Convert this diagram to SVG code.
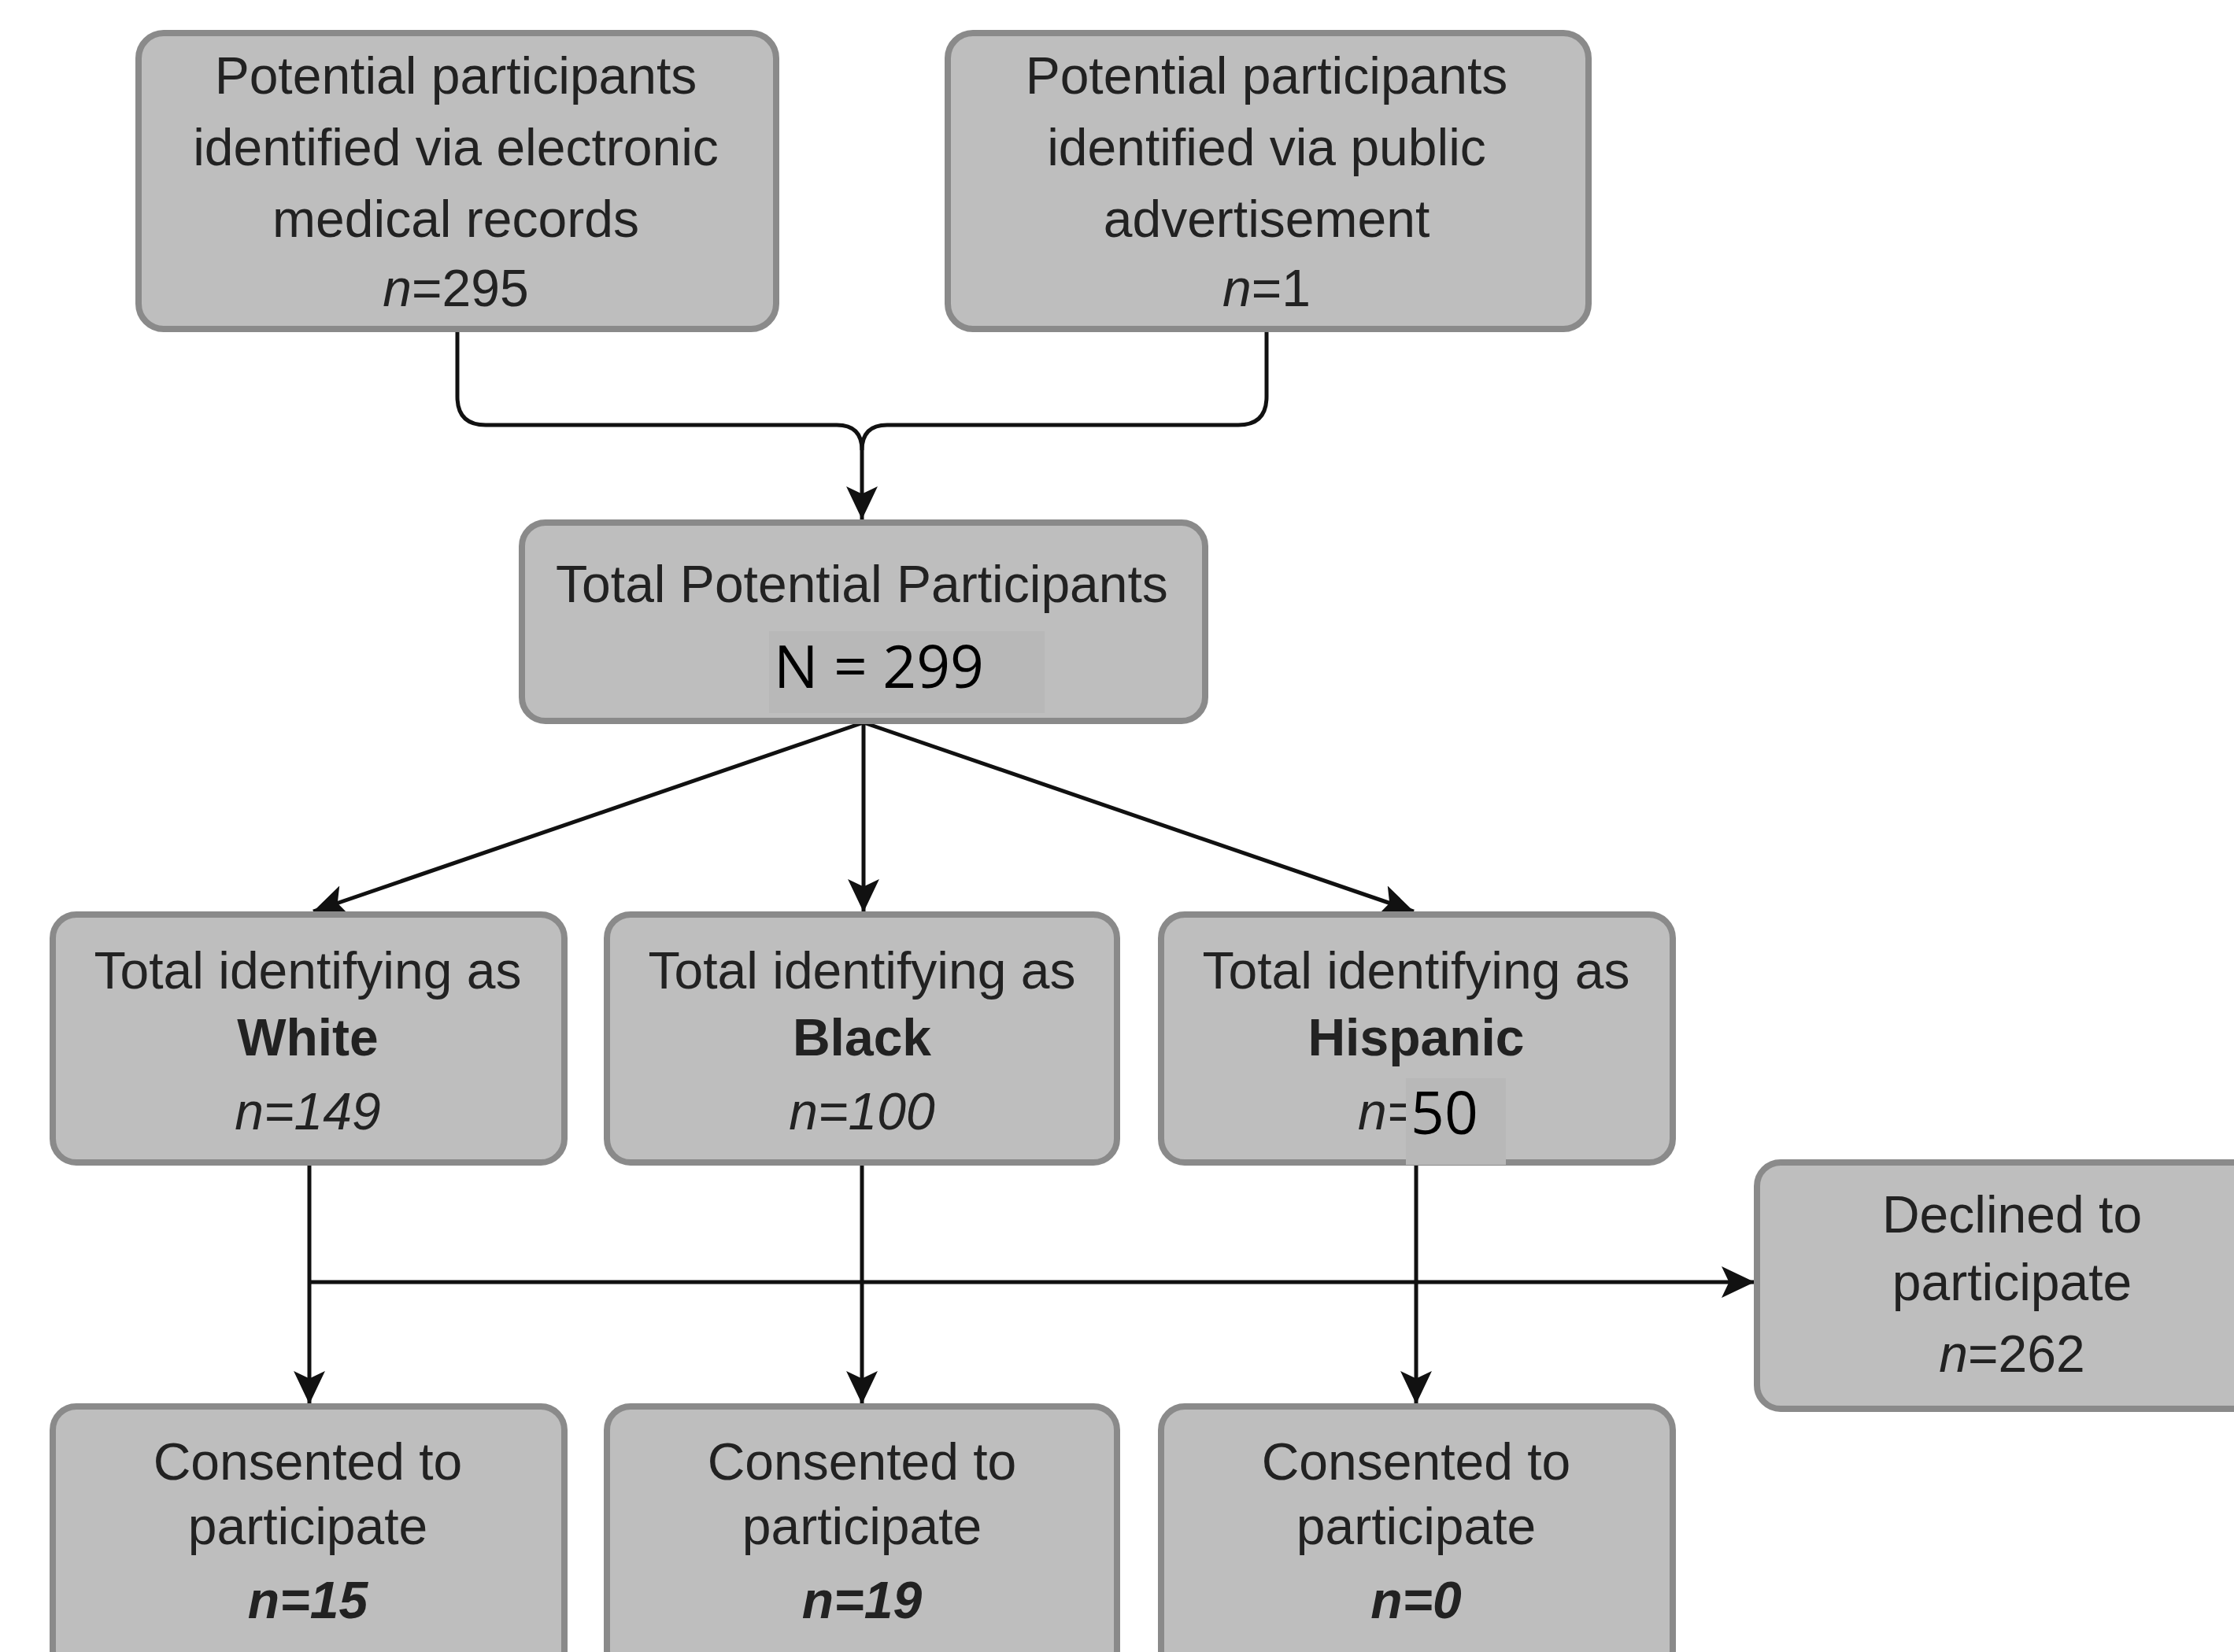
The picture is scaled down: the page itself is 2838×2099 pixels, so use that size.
<svg xmlns="http://www.w3.org/2000/svg" width="2838" height="2099" viewBox="0 0 2838 2099">
<style>
.box{fill:#bebebe;stroke:#8a8a8a;stroke-width:8}
.t{font-family:"Liberation Sans",Arial,sans-serif;font-size:66px;fill:#222;text-anchor:middle}
.i{font-style:italic}
.b{font-weight:bold}
.c{fill:none;stroke:#111;stroke-width:5}
.cal{font-family:"Open Sans","Noto Sans",sans-serif;font-size:75px;fill:#000}
.patch{fill:#b8b8b8}
</style>
<defs>
<marker id="arr" viewBox="0 0 40 40" refX="40" refY="20" markerWidth="42" markerHeight="42" orient="auto" markerUnits="userSpaceOnUse">
<path d="M0,1 L40,20 L0,39 L9,20 Z" fill="#111"/>
</marker>
</defs>
<rect width="2838" height="2099" fill="#fff"/>
<g id="connectors">
<path class="c" d="M581,420 V504 Q581,540 617,540 H1063 Q1095,540 1095,572"/>
<path class="c" d="M1609,420 V504 Q1609,540 1573,540 H1127 Q1095,540 1095,572"/>
<path class="c" d="M1095,572 V660" marker-end="url(#arr)"/>
<path class="c" d="M1097,918 L398,1158" marker-end="url(#arr)"/>
<path class="c" d="M1097,918 V1159" marker-end="url(#arr)"/>
<path class="c" d="M1097,918 L1796,1158" marker-end="url(#arr)"/>
<path class="c" d="M393,1479 V1784" marker-end="url(#arr)"/>
<path class="c" d="M1095,1479 V1784" marker-end="url(#arr)"/>
<path class="c" d="M1799,1479 V1784" marker-end="url(#arr)"/>
<path class="c" d="M393,1629 H2229" marker-end="url(#arr)"/>
</g>
<g id="node-emr">
<rect class="box" x="176" y="42" width="810" height="376" rx="32"/>
<text class="t" x="579" y="119">Potential participants</text>
<text class="t" x="579" y="210">identified via electronic</text>
<text class="t" x="579" y="301">medical records</text>
<text class="t" x="579" y="389"><tspan class="i">n</tspan>=295</text>
</g>
<g id="node-ad">
<rect class="box" x="1204" y="42" width="814" height="376" rx="32"/>
<text class="t" x="1609" y="119">Potential participants</text>
<text class="t" x="1609" y="210">identified via public</text>
<text class="t" x="1609" y="301">advertisement</text>
<text class="t" x="1609" y="389"><tspan class="i">n</tspan>=1</text>
</g>
<g id="node-total">
<rect class="box" x="663" y="664" width="868" height="252" rx="30"/>
<text class="t" x="1095" y="765">Total Potential Participants</text>
<rect class="patch" x="977" y="802" width="350" height="104"/>
<text class="cal" x="983" y="874">N = 299</text>
</g>
<g id="node-white">
<rect class="box" x="67" y="1162" width="650" height="315" rx="30"/>
<text class="t" x="391" y="1256">Total identifying as</text>
<text class="t b" x="391" y="1341">White</text>
<text class="t i" x="391" y="1435">n=149</text>
</g>
<g id="node-black">
<rect class="box" x="771" y="1162" width="648" height="315" rx="30"/>
<text class="t" x="1095" y="1256">Total identifying as</text>
<text class="t b" x="1095" y="1341">Black</text>
<text class="t i" x="1095" y="1435">n=100</text>
</g>
<g id="node-hispanic">
<rect class="box" x="1475" y="1162" width="650" height="315" rx="30"/>
<text class="t" x="1799" y="1256">Total identifying as</text>
<text class="t b" x="1799" y="1341">Hispanic</text>
<text class="t i" x="1725" y="1435" style="text-anchor:start">n=</text>
<rect class="patch" x="1786" y="1370" width="127" height="110"/>
<text class="cal" x="1792" y="1441">50</text>
</g>
<g id="node-declined">
<rect class="box" x="2232" y="1477" width="640" height="313" rx="30"/>
<text class="t" x="2556" y="1566">Declined to</text>
<text class="t" x="2556" y="1652">participate</text>
<text class="t" x="2556" y="1743"><tspan class="i">n</tspan>=262</text>
</g>
<g id="node-c-white">
<rect class="box" x="67" y="1787" width="650" height="340" rx="30"/>
<text class="t" x="391" y="1880">Consented to</text>
<text class="t" x="391" y="1962">participate</text>
<text class="t b i" x="391" y="2056">n=15</text>
</g>
<g id="node-c-black">
<rect class="box" x="771" y="1787" width="648" height="340" rx="30"/>
<text class="t" x="1095" y="1880">Consented to</text>
<text class="t" x="1095" y="1962">participate</text>
<text class="t b i" x="1095" y="2056">n=19</text>
</g>
<g id="node-c-hispanic">
<rect class="box" x="1475" y="1787" width="650" height="340" rx="30"/>
<text class="t" x="1799" y="1880">Consented to</text>
<text class="t" x="1799" y="1962">participate</text>
<text class="t b i" x="1799" y="2056">n=0</text>
</g>
</svg>
